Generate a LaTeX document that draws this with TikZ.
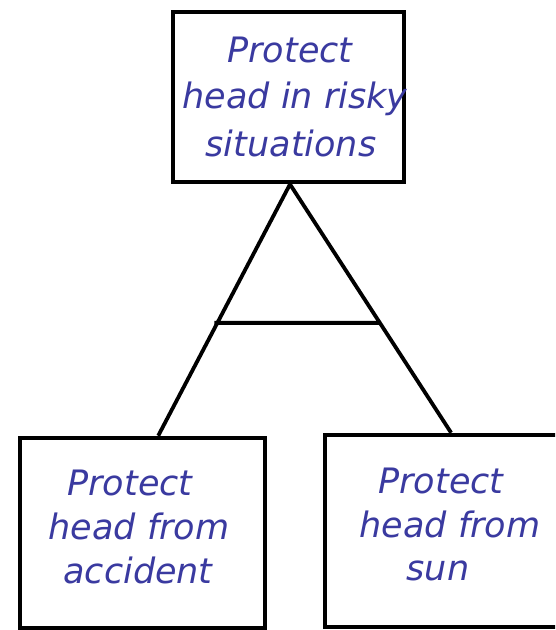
\documentclass[tikz,border=0pt]{standalone}
\usepackage{fontspec}
\newfontfamily\lblfont{DejaVu Sans}
\usetikzlibrary{calc}
\definecolor{txtblue}{RGB}{58,58,160}
\tikzset{
  goalbox/.style={draw=black, line width=4.5pt, rectangle, inner sep=0pt, fill=white},
  goaltext/.style={anchor=base, inner sep=0pt, text=txtblue, font=\lblfont\itshape\fontsize{35}{42}\selectfont},
  link/.style={draw=black, line width=3.8pt}
}
\begin{document}
\begin{tikzpicture}[x=1pt, y=-1pt]
\useasboundingbox (0,0) rectangle (555,630);
\clip (0,0) rectangle (555,630);
\fill[white] (0,0) rectangle (555,630);
% boxes
\node[goalbox, minimum width=231pt, minimum height=170pt] (top) at (288.5,97) {};
\node[goalbox, minimum width=245pt, minimum height=190pt] (lbox) at (142.5,533) {};
\node[goalbox, minimum width=235pt, minimum height=192pt] (rbox) at (442.5,531) {};
% connector end points
\coordinate (apex) at ($(top.south)+(1.5,0)$);
\coordinate (la) at ($(lbox.north west)!0.563!(lbox.north east)$);
\coordinate (ra) at ($(rbox.north west)!0.536!(rbox.north east)$);
\coordinate (barl) at ($(apex)!0.551!(la)$);
\coordinate (barx) at ($(barl)+(300,0)$);
\coordinate (barr) at (intersection of apex--ra and barl--barx);
\draw[link] (apex) -- (la);
\draw[link] (apex) -- (ra);
\draw[link, line width=4pt, shorten <=-3pt] (barl) -- (barr);
% texts
\node[goaltext] (t1) at (290,62) {Protect};
\node[goaltext] (t2) at (295,108) {head in risky};
\node[goaltext] (t3) at (291,156) {situations};
\node[goaltext] (l1) at (130,495) {Protect};
\node[goaltext] (l2) at (139,539) {head from};
\node[goaltext] (l3) at (138,583) {accident};
\node[goaltext] (r1) at (441,493) {Protect};
\node[goaltext] (r2) at (450,537) {head from};
\node[goaltext] (r3) at (438,580) {sun};
\end{tikzpicture}
\end{document}
